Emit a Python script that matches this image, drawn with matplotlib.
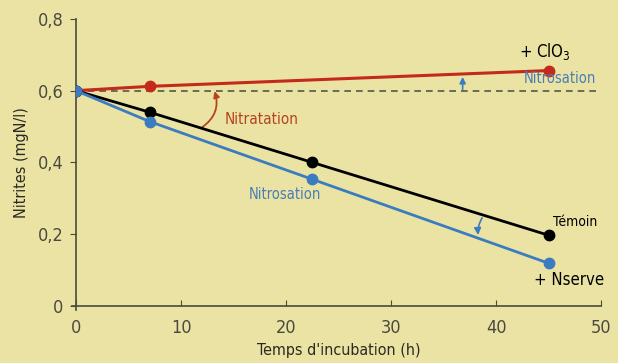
import matplotlib.pyplot as plt
from matplotlib.patches import FancyArrowPatch

# data
temps = [0, 7, 22.5, 45]
temps_clo3 = [0, 7, 45]
clo3 = [0.60, 0.612, 0.656]
temoin = [0.60, 0.540, 0.400, 0.197]
nserve = [0.60, 0.514, 0.353, 0.119]
ref_level = 0.60

bg = '#ebe3a4'
axis_col = '#4a4a3a'
red = '#c42a1c'
blue = '#3b7cc0'
arrow_red = '#b5441e'

plt.rcParams['font.family'] = ['DejaVu Sans']
plt.rcParams['font.stretch'] = 'condensed'

fig = plt.figure(figsize=(6.18, 3.63), dpi=100, facecolor=bg)
ax = fig.add_axes([0.123, 0.157, 0.850, 0.791], facecolor=bg)

ax.plot([0, 50], [ref_level, ref_level], ls=(0, (4, 3)), color='#4f5a44', lw=1.2)
ax.plot(temps_clo3, clo3, color=red, lw=2.2, marker='o', ms=7.5, zorder=3)
ax.plot(temps, temoin, color='black', lw=2.0, marker='o', ms=7.5, zorder=3)
ax.plot(temps, nserve, color=blue, lw=2.0, marker='o', ms=7.5, zorder=4)

ax.set_xlim(0, 50)
ax.set_ylim(0, 0.8)
ax.set_xticks([0, 10, 20, 30, 40, 50])
ax.set_yticks([0, 0.2, 0.4, 0.6, 0.8])
ax.set_yticklabels(['0', '0,2', '0,4', '0,6', '0,8'])
for s in ['top', 'right']:
    ax.spines[s].set_visible(False)
for s in ['left', 'bottom']:
    ax.spines[s].set_color(axis_col)
    ax.spines[s].set_linewidth(1.2)
ax.spines['left'].set_bounds(-0.01, 0.8)
ax.spines['bottom'].set_bounds(-0.4, 50)
ax.tick_params(axis='x', direction='in', length=4, color=axis_col,
               labelsize=13, labelcolor='#4a4a40', pad=9)
ax.tick_params(axis='y', direction='out', length=4, color=axis_col,
               labelsize=13, labelcolor='#4a4a40', pad=5)
ax.set_xlabel("Temps d'incubation (h)", fontsize=11.5, color='#2a2a22', labelpad=5)
ax.set_ylabel('Nitrites (mgN/l)', fontsize=11.5, color='#2a2a22', labelpad=6)

# annotations
ax.text(14.1, 0.52, 'Nitratation', color=arrow_red, fontsize=11, va='center')
ax.text(42.6, 0.634, 'Nitrosation', color='#4a7db5', fontsize=10.5, va='center')
ax.text(16.4, 0.31, 'Nitrosation', color='#4a7db5', fontsize=10.5, va='center')
ax.text(45.4, 0.235, 'Témoin', color='black', fontsize=10, va='center')
ax.text(46.9, 0.072, '+ Nserve', color='black', fontsize=12, va='center', ha='center')
ax.text(44.6, 0.708, '+ ClO$_3$', color='black', fontsize=12, va='center', ha='center')

ax.add_patch(FancyArrowPatch((11.8, 0.494), (13.1, 0.606),
                             connectionstyle='arc3,rad=0.4', arrowstyle='-|>',
                             mutation_scale=9, color=arrow_red, lw=1.3))
ax.add_patch(FancyArrowPatch((36.8, 0.596), (36.8, 0.646),
                             arrowstyle='-|>', mutation_scale=9, color=blue, lw=1.2))
ax.add_patch(FancyArrowPatch((38.8, 0.252), (38.3, 0.190),
                             connectionstyle='arc3,rad=0.2', arrowstyle='-|>',
                             mutation_scale=10, color=blue, lw=1.2, zorder=5))

fig.savefig('out.png', dpi=100, facecolor=bg)
